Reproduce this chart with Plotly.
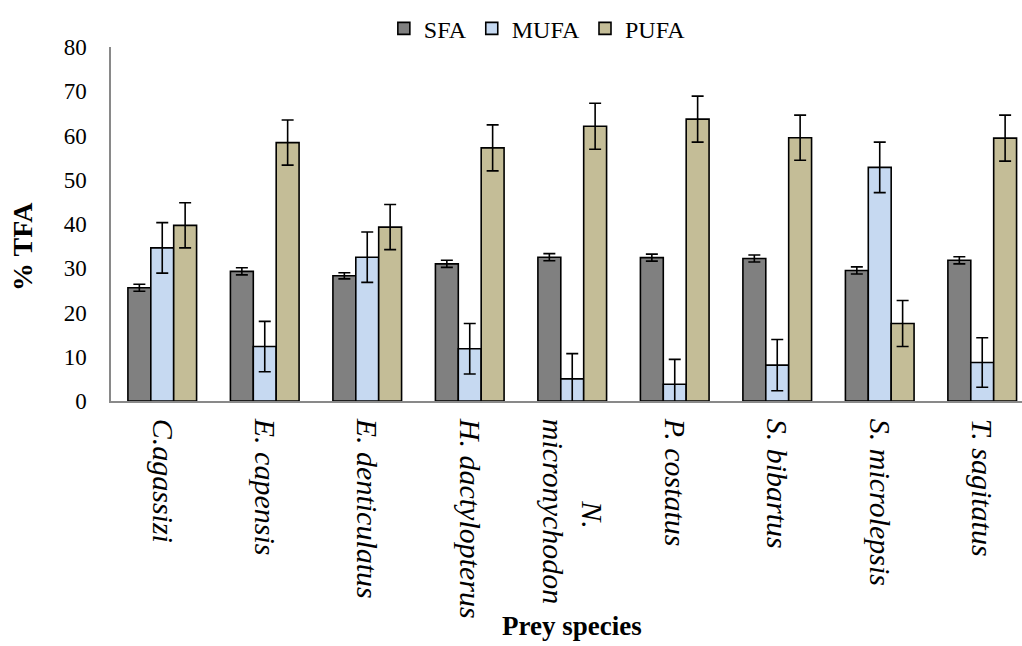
import plotly.graph_objects as go

NB = "\u00a0"
species = ["C.agassizi", "E. capensis", "E. denticulatus", "H. dactylopterus",
           NB * 11 + "N.<br>micronychodon", "P. costatus", "S. bibartus", "S. microlepsis", "T. sagitatus"]

sfa = [25.6, 29.3, 28.3, 31.0, 32.5, 32.4, 32.2, 29.5, 31.8]
sfa_err = [0.8, 0.8, 0.7, 0.8, 0.8, 0.8, 0.8, 0.8, 0.8]
mufa = [34.6, 12.3, 32.5, 11.8, 5.0, 3.8, 8.1, 52.8, 8.7]
mufa_err = [5.7, 5.7, 5.7, 5.7, 5.7, 5.6, 5.8, 5.7, 5.6]
pufa = [39.7, 58.4, 39.3, 57.2, 62.1, 63.7, 59.5, 17.5, 59.4]
pufa_err = [5.1, 5.1, 5.1, 5.2, 5.2, 5.2, 5.1, 5.2, 5.2]

series = [("SFA", sfa, sfa_err, "#808080"),
          ("MUFA", mufa, mufa_err, "#c6d9f1"),
          ("PUFA", pufa, pufa_err, "#c4bd97")]

fig = go.Figure()
for name, vals, errs, col in series:
    fig.add_trace(go.Bar(
        name=name, x=species, y=vals,
        marker=dict(color=col, line=dict(color="black", width=1.6)),
        error_y=dict(type="data", array=errs, visible=True, color="black",
                     thickness=1.6, width=6),
    ))

font = "Liberation Serif, Times New Roman, serif"
fig.update_layout(
    width=1022, height=646,
    margin=dict(l=111, r=0, t=47, b=245),
    plot_bgcolor="white", paper_bgcolor="white",
    barmode="group", bargap=0.33, bargroupgap=0,
    font=dict(family=font, size=22, color="black"),
    legend=dict(orientation="h", x=0.468, xanchor="center", y=1.115, yanchor="top",
                font=dict(family=font, size=24), itemwidth=30,
                traceorder="normal"),
    xaxis=dict(range=[-0.5, 8.388], showline=True, linecolor="#898989", linewidth=1.5,
               tickangle=90, ticks="", showgrid=False, ticklabelstandoff=10,
               tickfont=dict(family=font, size=30, style="italic")),
    yaxis=dict(range=[0, 80], dtick=10, showline=True, linecolor="#898989", linewidth=1.5,
               ticks="", showgrid=False, zeroline=False, ticklabelstandoff=18,
               tickfont=dict(family=font, size=23)),
    annotations=[
        dict(text="<b>% TFA</b>", x=(22 - 111) / 911, y=(401 - 247) / 354,
             xref="paper", yref="paper", xanchor="center", yanchor="middle",
             textangle=-90, showarrow=False, font=dict(family=font, size=28)),
        dict(text="<b>Prey species</b>", x=(572 - 111) / 911, y=(401 - 626) / 354,
             xref="paper", yref="paper", xanchor="center", yanchor="middle",
             showarrow=False, font=dict(family=font, size=27)),
    ],
)

fig.write_html("out.html")
